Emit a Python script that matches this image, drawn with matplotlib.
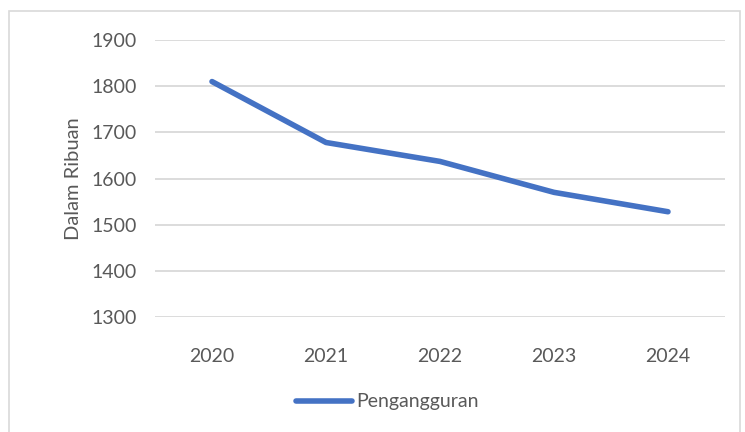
import matplotlib.pyplot as plt
from matplotlib.patches import Rectangle

# data
years = ['2020', '2021', '2022', '2023', '2024']
pengangguran = [1810, 1678, 1637, 1570, 1528]
y_ticks = [1300, 1400, 1500, 1600, 1700, 1800, 1900]

plt.rcParams['font.family'] = ['Lato', 'DejaVu Sans']
text_col = '#595959'
grid_col = '#d9d9d9'

fig = plt.figure(figsize=(7.45, 4.32), dpi=100)
W, H = 745, 432
ax = fig.add_axes([155 / W, 1 - 317 / H, 570 / W, 277 / H])

x = range(len(years))
ax.plot(x, pengangguran, color='#4472C4', lw=4, solid_capstyle='round',
        label='Pengangguran')

ax.set_xlim(-0.5, len(years) - 0.5)
ax.set_ylim(y_ticks[0], y_ticks[-1])
ax.set_yticks(y_ticks)
ax.set_xticks(list(x))
ax.set_xticklabels(years)
ax.grid(axis='y', color=grid_col, lw=1.3)
ax.set_axisbelow(True)
for s in ax.spines.values():
    s.set_visible(False)
ax.tick_params(length=0, labelsize=14, colors=text_col)
ax.tick_params(axis='y', pad=13)
ax.tick_params(axis='x', pad=22)
ax.set_ylabel('Dalam Ribuan', fontsize=14.5, color=text_col, labelpad=7)

fig.legend(loc='center', bbox_to_anchor=(387 / W, 1 - 402 / H), frameon=False,
           fontsize=14, labelcolor=text_col, handlelength=2.9, handletextpad=0.2)

# outer chart border
fig.patches.append(Rectangle((9 / W, -0.01), 731 / W, 1 - 11 / H + 0.01,
                             transform=fig.transFigure, fill=False,
                             edgecolor=grid_col, lw=1.2))

fig.savefig('out.png', dpi=100)
